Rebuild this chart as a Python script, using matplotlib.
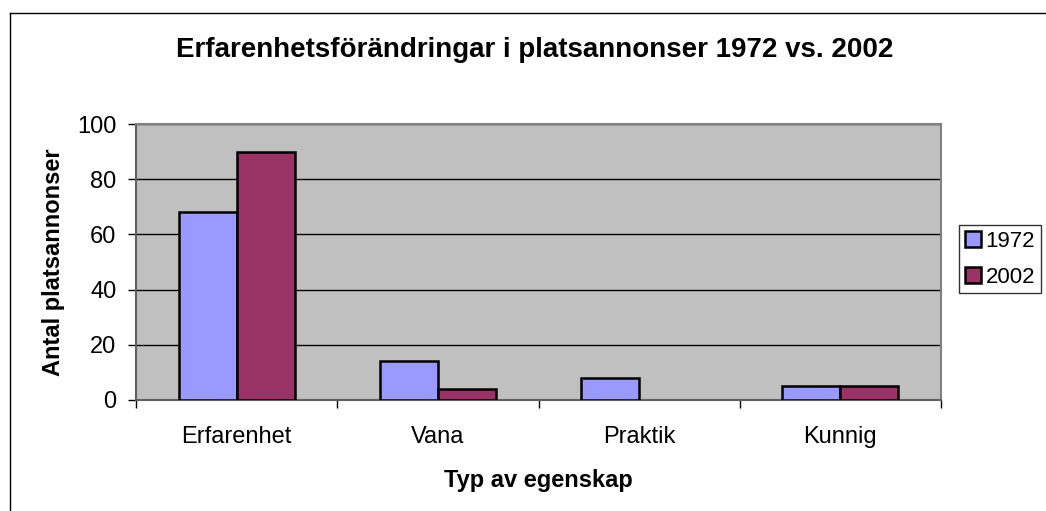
import matplotlib
matplotlib.use('Agg')
import matplotlib.pyplot as plt
from matplotlib.lines import Line2D
import numpy as np

plt.rcParams['font.family'] = ['Liberation Sans', 'DejaVu Sans']

# data
kategorier = ["Erfarenhet", "Vana", "Praktik", "Kunnig"]
ar_1972 = [68, 14, 8, 5]
ar_2002 = [90, 4, 0, 5]
serier = ["1972", "2002"]

farg_1972 = "#9999FF"
farg_2002 = "#993366"

fig = plt.figure(figsize=(10.46, 5.11), dpi=100)
ax = fig.add_axes([136/1046, 1 - 400/511, (941-136)/1046, (400-124)/511])
ax.set_facecolor("#C0C0C0")

x = np.arange(len(kategorier))
w = 0.288
for offs, vals, farg, namn in [(-w/2, ar_1972, farg_1972, serier[0]), (w/2, ar_2002, farg_2002, serier[1])]:
    bars = ax.bar(x + offs, vals, w, color=farg, edgecolor="black", linewidth=1.8, label=namn, zorder=3)
    for b, v in zip(bars, vals):
        if v == 0:
            b.set_visible(False)

ax.set_xlim(-0.5, len(kategorier) - 0.5)
ax.set_ylim(0, 100)
ax.set_yticks(range(0, 101, 20))
ax.yaxis.grid(True, color="black", linewidth=1)
ax.set_axisbelow(True)

# kategoriticks mellan grupperna
ax.set_xticks(np.arange(-0.5, len(kategorier), 1))
ax.set_xticklabels([])
ax.set_xticks(x, minor=True)
ax.set_xticklabels(kategorier, minor=True, fontsize=17)
ax.tick_params(axis="x", which="minor", length=0, pad=19)
ax.tick_params(axis="x", which="major", direction="out", length=6, width=1, colors="black")
ax.tick_params(axis="y", direction="out", length=6, width=1, labelsize=17, pad=8)

for s in ["top", "right"]:
    ax.spines[s].set_color("#808080")
    ax.spines[s].set_linewidth(1.5)
ax.spines["left"].set_color("#606060")
ax.spines["bottom"].set_color("#606060")
ax.spines["left"].set_linewidth(1.5)
ax.spines["bottom"].set_linewidth(1.5)

ax.set_ylabel("Antal platsannonser", fontsize=17, fontweight="bold", labelpad=9)
ax.set_xlabel("Typ av egenskap", fontsize=17, fontweight="bold", labelpad=15)

fig.text(535/1046, 1 - 50/511, "Erfarenhetsförändringar i platsannonser 1972 vs. 2002",
         ha="center", va="center", fontsize=20, fontweight="bold")

handles = [Line2D([], [], marker="s", linestyle="none", markersize=11,
                  markerfacecolor=c, markeredgecolor="black", markeredgewidth=1.8)
           for c in (farg_1972, farg_2002)]
leg = fig.legend(handles, serier, loc="upper left", bbox_to_anchor=(959/1046, 1 - 225/511),
                 fontsize=16, frameon=True, fancybox=False, edgecolor="black",
                 handletextpad=0.15, handlelength=0.8, borderpad=0.25, labelspacing=0.68,
                 borderaxespad=0)
leg.get_frame().set_linewidth(1)

# yttre ram
fig.add_artist(Line2D([10/1046, 10/1046], [0, 1 - 13/511], transform=fig.transFigure, color="black", linewidth=1))
fig.add_artist(Line2D([10/1046, 1], [1 - 13/511, 1 - 13/511], transform=fig.transFigure, color="black", linewidth=1))

fig.savefig("out.png", dpi=100)
